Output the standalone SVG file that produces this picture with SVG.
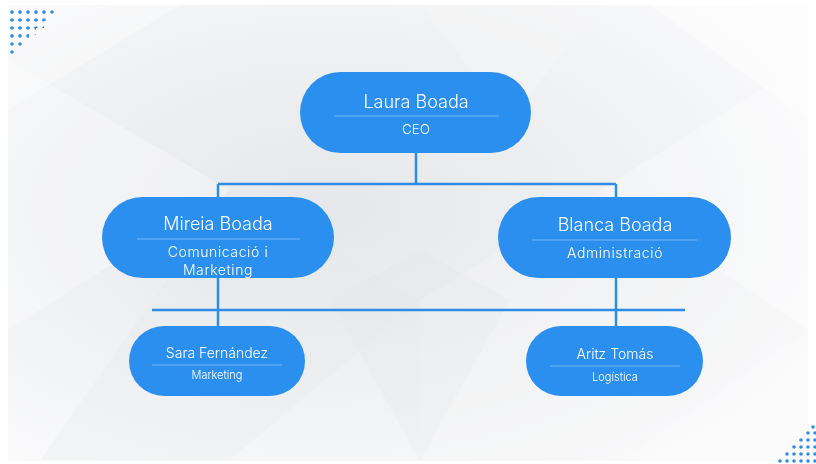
<svg xmlns="http://www.w3.org/2000/svg" width="816" height="464" viewBox="0 0 816 464">
<defs>
<style>
.node{fill:#2b8ff0;}
.div{stroke:#74b6f6;stroke-width:1;}
.conn{stroke:#2f8de8;stroke-width:2.5;fill:none;}
.nm{font-family:Inter,"Open Sans",sans-serif;fill:#ffffff;text-anchor:middle;font-weight:300;}
.dot{fill:#2f8de8;}
</style>
<radialGradient id="bg" cx="0.4" cy="0.45" r="0.7">
<stop offset="0" stop-color="#e6e7ea"/>
<stop offset="0.6" stop-color="#f1f2f4"/>
<stop offset="1" stop-color="#fbfbfc"/>
</radialGradient>
<pattern id="dp" width="8" height="8" patternUnits="userSpaceOnUse">
<circle cx="4" cy="4" r="1.8" class="dot"/>
</pattern>
</defs>
<rect width="816" height="464" fill="#ffffff"/>
<rect x="8" y="5" width="800" height="456" fill="url(#bg)"/>
<g id="background" opacity="0.6">
<polygon points="8,60 230,190 8,330" fill="#ffffff" opacity="0.5"/>
<polygon points="230,190 420,300 230,460 40,460" fill="#e4e5e8" opacity="0.4"/>
<polygon points="420,300 600,190 808,330 620,461 420,461" fill="#f6f7f8" opacity="0.6"/>
<polygon points="420,5 600,5 510,120" fill="#f7f7f8" opacity="0.6"/>
<polygon points="600,190 808,60 808,330" fill="#ffffff" opacity="0.5"/>
<polygon points="330,300 420,250 510,300 420,461" fill="#e0e1e4" opacity="0.35"/>
<polygon points="8,5 180,5 8,110" fill="#ffffff" opacity="0.6"/>
<polygon points="650,5 808,5 808,120" fill="#ffffff" opacity="0.8"/>
</g>
<g id="dots-tl">
<rect x="10" y="6" width="48" height="8" fill="url(#dp)"/>
<rect x="10" y="13" width="40" height="8" fill="url(#dp)"/>
<rect x="10" y="20" width="34" height="8" fill="url(#dp)"/>
<rect x="10" y="27" width="26" height="8" fill="url(#dp)"/>
<rect x="10" y="34" width="19" height="8" fill="url(#dp)"/>
<rect x="10" y="41" width="12" height="8" fill="url(#dp)"/>
<rect x="10" y="48" width="6" height="8" fill="url(#dp)"/>
</g>
<g id="dots-br">
<circle cx="813" cy="427" r="1.8" class="dot"/>
<circle cx="808" cy="433" r="1.8" class="dot"/><circle cx="815" cy="433" r="1.8" class="dot"/>
<circle cx="801" cy="440" r="1.8" class="dot"/><circle cx="808" cy="440" r="1.8" class="dot"/><circle cx="815" cy="440" r="1.8" class="dot"/>
<circle cx="794" cy="447" r="1.8" class="dot"/><circle cx="801" cy="447" r="1.8" class="dot"/><circle cx="808" cy="447" r="1.8" class="dot"/><circle cx="815" cy="447" r="1.8" class="dot"/>
<circle cx="787" cy="454" r="1.8" class="dot"/><circle cx="794" cy="454" r="1.8" class="dot"/><circle cx="801" cy="454" r="1.8" class="dot"/><circle cx="808" cy="454" r="1.8" class="dot"/><circle cx="815" cy="454" r="1.8" class="dot"/>
<circle cx="780" cy="461" r="1.8" class="dot"/><circle cx="787" cy="461" r="1.8" class="dot"/><circle cx="794" cy="461" r="1.8" class="dot"/><circle cx="801" cy="461" r="1.8" class="dot"/><circle cx="808" cy="461" r="1.8" class="dot"/><circle cx="815" cy="461" r="1.8" class="dot"/>
</g>
<g id="connectors">
<path class="conn" d="M416,153 V184 M218,184 H616 M218,184 V197 M616,184 V197"/>
<path class="conn" d="M152,310 H685 M218,278 V326 M616,278 V326"/>
</g>
<g id="n-laura">
<rect class="node" x="300" y="72" width="231" height="81" rx="40.5"/>
<line class="div" x1="334" y1="116" x2="499" y2="116"/>
<text class="nm" x="416" y="108" font-size="18">Laura Boada</text>
<text class="nm" x="416" y="134" font-size="13.5">CEO</text>
</g>
<g id="n-mireia">
<rect class="node" x="102" y="197" width="232" height="81" rx="40.5"/>
<line class="div" x1="137" y1="239" x2="300" y2="239"/>
<text class="nm" x="218" y="230" font-size="18">Mireia Boada</text>
<text class="nm" x="218" y="257" font-size="14" letter-spacing="0.6">Comunicació i</text>
<text class="nm" x="218" y="275" font-size="14" letter-spacing="0.6">Marketing</text>
</g>
<g id="n-blanca">
<rect class="node" x="498" y="197" width="233" height="81" rx="40.5"/>
<line class="div" x1="532" y1="240" x2="697" y2="240"/>
<text class="nm" x="615" y="231" font-size="18">Blanca Boada</text>
<text class="nm" x="615" y="258" font-size="14" letter-spacing="0.6">Administració</text>
</g>
<g id="n-sara">
<rect class="node" x="129" y="326" width="176" height="70" rx="35"/>
<line class="div" x1="152" y1="365" x2="282" y2="365"/>
<text class="nm" x="217" y="358" font-size="14">Sara Fernández</text>
<text class="nm" x="217" y="379" font-size="11">Marketing</text>
</g>
<g id="n-aritz">
<rect class="node" x="526" y="326" width="177" height="70" rx="35"/>
<line class="div" x1="550" y1="366" x2="680" y2="366"/>
<text class="nm" x="615" y="359" font-size="14">Aritz Tomás</text>
<text class="nm" x="615" y="381" font-size="11">Logística</text>
</g>
</svg>
